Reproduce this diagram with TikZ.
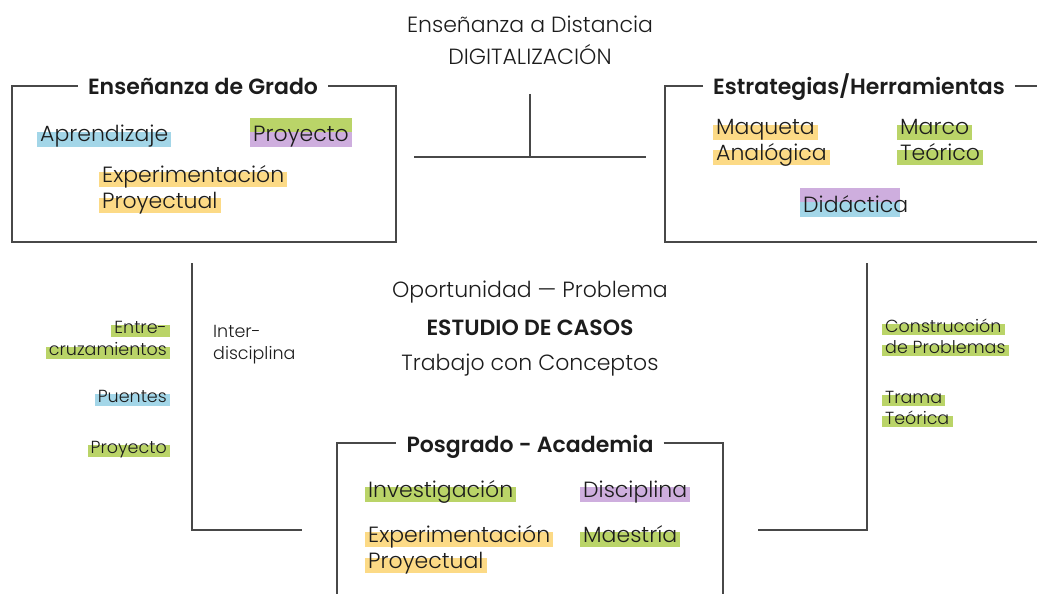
\documentclass[tikz,border=0pt]{standalone}
\usepackage{fontspec}
\setmainfont{Poppins}[UprightFont=* Light, BoldFont=* SemiBold]
\usetikzlibrary{calc,backgrounds}
\definecolor{hlblue}{RGB}{163,214,232}
\definecolor{hlgreen}{RGB}{186,212,104}
\definecolor{hlyellow}{RGB}{252,218,134}
\definecolor{hlpurple}{RGB}{206,174,222}
\definecolor{ink}{RGB}{28,28,28}
\definecolor{linec}{RGB}{72,72,72}
\newcommand\hlband[4]{\fill[#1] ($(#2.base west)+(-3,#3)$) rectangle ($(#2.base east)+(3,#4)$);}
\newcommand\hlbandR[5]{\fill[#1] ($(#2.base west)+(-3,#3)$) rectangle ($(#2.base east)+(#5,#4)$);}
\begin{document}
\begin{tikzpicture}[x=1pt,y=-1pt,
  base/.style={inner sep=0pt, text=ink},
  big/.style={base, font=\fontsize{22}{25}\selectfont, anchor=base west},
  bigc/.style={base, font=\fontsize{22}{25}\selectfont, anchor=base},
  bigb/.style={base, font=\fontsize{22}{25}\selectfont\bfseries, anchor=base},
  small/.style={base, font=\fontsize{17.5}{20}\selectfont},
  boxtitle/.style={base, inner xsep=10pt, font=\fontsize{22}{25}\selectfont\bfseries, anchor=base},
  frame/.style={draw=linec, line width=1.4pt},
]
\useasboundingbox (0,0) rectangle (1037,594);

% top texts
\node[bigc] (dist) at (530,33) {Enseñanza a Distancia};
\node[bigc] (digi) at (530,65) {DIGITALIZACIÓN};

% T connector
\coordinate (tL) at (414,157);
\coordinate (tR) at (646,157);
\coordinate (tT) at (530,94);
\coordinate (tM) at (530,157);
\draw[frame] (tL) -- (tR);
\draw[frame] (tT) -- (tM);

% left box
\node[boxtitle] (tg) at (203,95) {Enseñanza de Grado};
\coordinate (g1) at (12,86);
\coordinate (g2) at (12,242);
\coordinate (g3) at (396,242);
\coordinate (g4) at (396,86);
\draw[frame] (tg.west |- g1) -- (g1) -- (g2) -- (g3) -- (g4) -- (tg.east |- g4);
\node[big] (apr) at (40,142) {Aprendizaje};
\node[big] (proy1) at (253,142) {Proyecto};
\node[big] (exp1) at (102,182) {Experimentación};
\node[big] (pro1) at (102,208) {Proyectual};

% right box
\node[boxtitle] (te) at (859,95) {Estrategias/Herramientas};
\coordinate (e1) at (665,86);
\coordinate (e2) at (665,242);
\coordinate (e3) at (1045,242);
\coordinate (e4) at (1045,86);
\draw[frame] (te.west |- e1) -- (e1) -- (e2) -- (e3);
\draw[frame] (te.east |- e4) -- (e4);
\node[big] (maq) at (716,135) {Maqueta};
\node[big] (ana) at (716,160) {Analógica};
\node[big] (mar) at (900,135) {Marco};
\node[big] (teo) at (900,160) {Teórico};
\node[big] (did) at (803,212) {Didáctica};

% centre
\node[bigc] (opo) at (530,297) {Oportunidad — Problema};
\node[bigb] (est) at (530,335) {ESTUDIO DE CASOS};
\node[bigc] (tra) at (530,370) {Trabajo con Conceptos};

% left bracket
\coordinate (l1) at (192,263);
\coordinate (l2) at (192,530);
\coordinate (l3) at (302,530);
\draw[frame] (l1) -- (l2) -- (l3);
\node[small, anchor=base east] (ent) at (167,333) {Entre-};
\node[small, anchor=base east] (cru) at (167,355) {cruzamientos};
\node[small, anchor=base east] (pue) at (167,402) {Puentes};
\node[small, anchor=base east] (pro2) at (167,453) {Proyecto};
\node[small, anchor=base west] (int) at (213,337) {Inter-};
\node[small, anchor=base west] (dis1) at (213,359) {disciplina};

% right bracket
\coordinate (r1) at (867,263);
\coordinate (r2) at (867,530);
\coordinate (r3) at (758,530);
\draw[frame] (r1) -- (r2) -- (r3);
\node[small, anchor=base west] (con) at (885,332) {Construcción};
\node[small, anchor=base west] (dep) at (885,353) {de Problemas};
\node[small, anchor=base west] (tram) at (885,403) {Trama};
\node[small, anchor=base west] (teo2) at (885,424) {Teórica};

% bottom box
\node[boxtitle] (tp) at (530,452) {Posgrado - Academia};
\coordinate (p1) at (337,443);
\coordinate (p2) at (337,600);
\coordinate (p3) at (723,600);
\coordinate (p4) at (723,443);
\draw[frame] (p2) -- (p1) -- (tp.west |- p1);
\draw[frame] (tp.east |- p4) -- (p4) -- (p3);
\node[big] (inv) at (368,497) {Investigación};
\node[big] (dis2) at (583,497) {Disciplina};
\node[big] (exp2) at (368,542) {Experimentación};
\node[big] (mae) at (583,542) {Maestría};
\node[big] (pro3) at (368,568) {Proyectual};

% highlight bands
\begin{scope}[on background layer]
\hlband{hlblue}{apr}{-10}{5}
\hlband{hlgreen}{proy1}{-24}{-10}
\hlband{hlpurple}{proy1}{-10}{5}
\hlband{hlyellow}{exp1}{-10}{5}
\hlband{hlyellow}{pro1}{-10}{5}
\hlband{hlyellow}{maq}{-10}{5}
\hlband{hlyellow}{ana}{-10}{5}
\hlband{hlgreen}{mar}{-10}{5}
\hlband{hlgreen}{teo}{-10}{5}
\hlbandR{hlpurple}{did}{-24}{-10}{-8}
\hlbandR{hlblue}{did}{-10}{5}{-8}
\hlband{hlgreen}{ent}{-8}{4}
\hlband{hlgreen}{cru}{-8}{4}
\hlband{hlblue}{pue}{-8}{4}
\hlband{hlgreen}{pro2}{-8}{4}
\hlband{hlgreen}{con}{-8}{3}
\hlband{hlgreen}{dep}{-8}{3}
\hlband{hlgreen}{tram}{-8}{3}
\hlband{hlgreen}{teo2}{-8}{3}
\hlband{hlgreen}{inv}{-10}{5}
\hlband{hlpurple}{dis2}{-10}{5}
\hlband{hlyellow}{exp2}{-10}{5}
\hlband{hlgreen}{mae}{-10}{5}
\hlband{hlyellow}{pro3}{-10}{5}
\end{scope}
\end{tikzpicture}
\end{document}
